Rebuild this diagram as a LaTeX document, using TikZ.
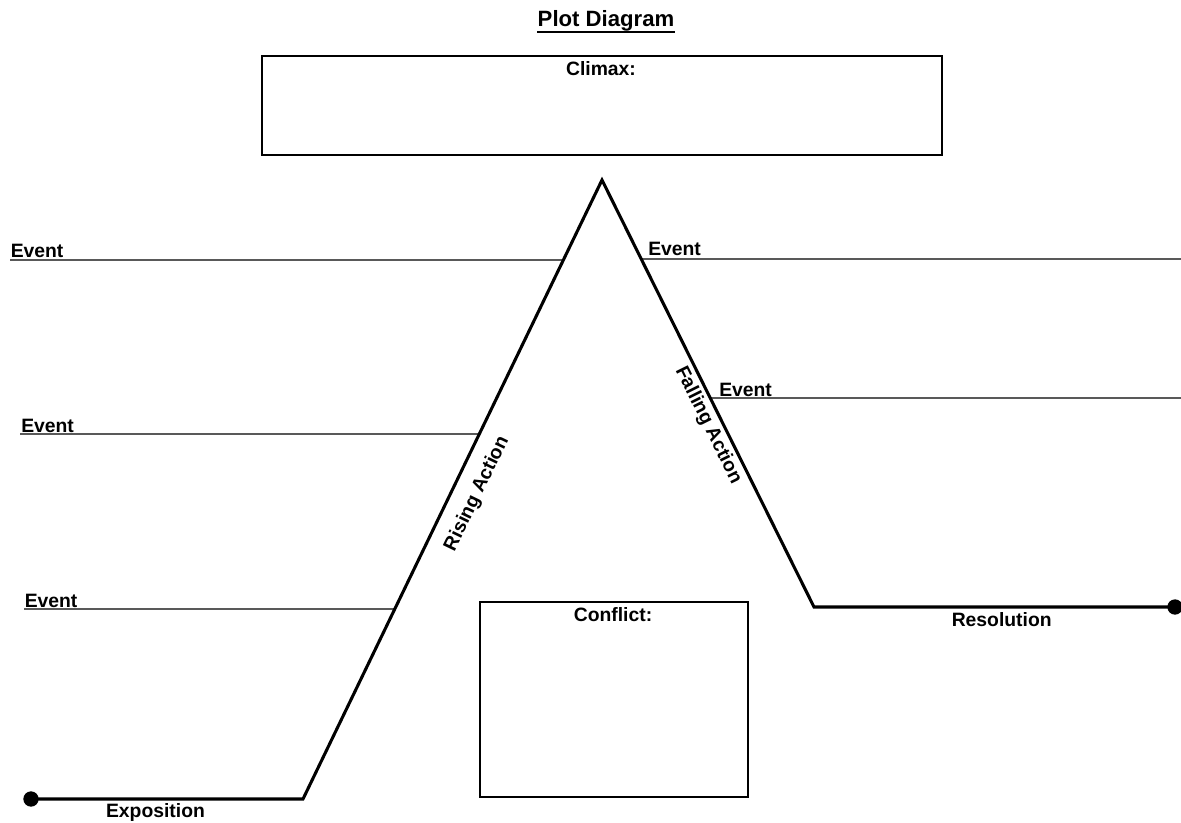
\documentclass[tikz,border=0pt]{standalone}
\usepackage{fontspec}
\setmainfont{Liberation Sans}
\usetikzlibrary{calc}
\begin{document}
\begin{tikzpicture}[x=0.75pt,y=-0.75pt,
  lbl/.style={font=\bfseries\fontsize{14.5}{16}\selectfont, inner sep=0pt},
  titlest/.style={font=\bfseries\fontsize{16.6}{18}\selectfont, inner sep=0pt},
  plotline/.style={line width=2.3pt, line join=miter},
  eventline/.style={line width=1pt},
  boxst/.style={draw, line width=1.6pt, inner sep=0pt},
  dotst/.style={circle, fill, inner sep=0pt, minimum size=11.5pt}]
\useasboundingbox (0,0) rectangle (1181,822);
\fill[white] (0,0) rectangle (1181,822);
% title
\node[titlest, anchor=base] (title) at (606,26.5) {Plot Diagram};
\draw[line width=1.5pt] ($(title.base west)+(0,5)$) -- ($(title.base east)+(0,5)$);
% boxes
\node[boxst, minimum width=510pt, minimum height=74pt] (climax) at (602,105.5) {};
\node[lbl, anchor=base] (climaxlbl) at (601,75.7) {Climax:};
\node[boxst, minimum width=201pt, minimum height=146pt] (conflict) at (614,699.5) {};
\node[lbl, anchor=base] (conflictlbl) at (613,621.5) {Conflict:};
% plot line
\coordinate (expoL) at (31,799);
\coordinate (base) at (303,799);
\coordinate (peak) at (602,180);
\coordinate (resL) at (814,607);
\coordinate (resR) at (1175,607);
\draw[plotline] (expoL) -- (base) -- (peak) -- (resL) -- (resR);
\node[dotst] (dotL) at (expoL) {};
\node[dotst] (dotR) at (resR) {};
\path (base) -- (peak) node[lbl, pos=0.51, sloped, below=11pt] (rising) {Rising Action};
\path (peak) -- (resL) node[lbl, pos=0.56, sloped, below=3.5pt] (falling) {Falling Action};
\node[lbl, anchor=base] (expo) at (155.5,817) {Exposition};
\node[lbl, anchor=base] (reso) at (1001.7,626.7) {Resolution};
% left events
\coordinate (l1s) at (10,260);
\coordinate (l1e) at ($(peak)!0.1292!(base)$);
\coordinate (l2s) at (20,434);
\coordinate (l2e) at ($(peak)!0.4103!(base)$);
\coordinate (l3s) at (24,609);
\coordinate (l3e) at ($(peak)!0.6931!(base)$);
\draw[eventline] (l1s) -- (l1e);
\draw[eventline] (l2s) -- (l2e);
\draw[eventline] (l3s) -- (l3e);
\node[lbl, anchor=base west] (ev1) at (10.5,257.5) {Event};
\node[lbl, anchor=base west] (ev2) at (21,432.3) {Event};
\node[lbl, anchor=base west] (ev3) at (24.5,607.5) {Event};
% right events
\coordinate (r1s) at ($(peak)!0.185!(resL)$);
\coordinate (r1e) at (1181,259);
\coordinate (r2s) at ($(peak)!0.5105!(resL)$);
\coordinate (r2e) at (1181,398);
\draw[eventline] (r1s) -- (r1e);
\draw[eventline] (r2s) -- (r2e);
\node[lbl, anchor=base west] (ev4) at (648,255.5) {Event};
\node[lbl, anchor=base west] (ev5) at (719,396.5) {Event};
\end{tikzpicture}
\end{document}
